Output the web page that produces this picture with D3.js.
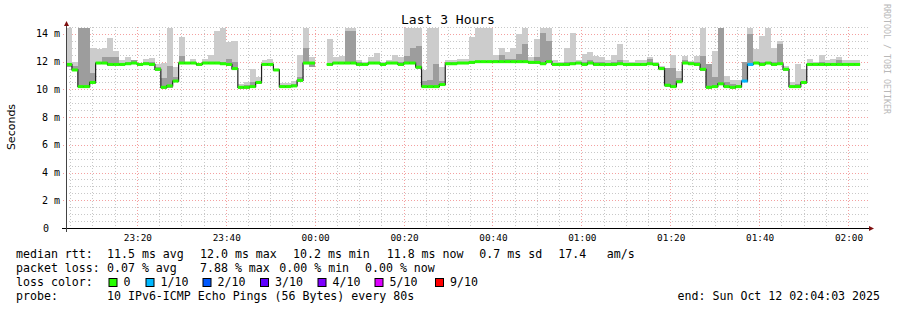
<!DOCTYPE html>
<html>
<head>
<meta charset="utf-8">
<script src="https://cdn.jsdelivr.net/npm/d3@7"></script>
<style>
  body { margin: 0; background: #fff; }
  svg { display: block; }
</style>
</head>
<body>
<div id="chart"></div>
<script>
// === Data (ms, one sample every 80 s from 23:04:03) ===
const startTime = new Date(2025, 9, 11, 23, 4, 3);
const endTime = new Date(2025, 9, 12, 2, 4, 3);
const stepSeconds = 80;

const medianRtt = [
  11.8, 11.4, 10.2, 10.2, 10.5, 11.9, 11.9, 11.8, 11.8, 11.8,
  11.85, 11.9, 11.8, 11.85, 11.8, 11.45, 10.15, 10.25, 10.6, 11.9,
  11.9, 11.9, 11.8, 11.9, 11.9, 11.9, 11.85, 11.8, 11.5, 10.15,
  10.15, 10.2, 10.5, 11.8, 11.8, 11.4, 10.2, 10.2, 10.25, 10.65,
  11.9, 11.9, null, null, 11.8, 11.9, 11.9, 11.9, 11.9, 11.8,
  11.8, 11.9, 11.9, 11.8, 11.9, 11.9, 11.8, 11.9, 11.9, 11.6,
  10.2, 10.2, 10.2, 10.35, 11.85, 11.85, 11.9, 11.9, 11.95, 12.0,
  12.0, 12.0, 12.0, 12.0, 12.0, 12.0, 12.0, 12.0, 11.95, 11.95,
  11.85, 12.0, 11.8, 11.8, 11.8, 11.85, 11.9, 11.8, 11.9, 11.8,
  11.8, 11.8, 11.8, 11.85, 11.8, 11.8, 11.8, 11.8, 11.85, 11.8,
  11.5, 10.3, 10.2, 10.55, 11.9, 11.85, 11.8, 11.45, 10.15, 10.2,
  10.4, 10.2, 10.15, 10.2, 10.6, 11.8, 11.9, 11.8, 11.9, 11.8,
  11.85, 11.45, 10.2, 10.2, 10.5, 11.8, 11.8, 11.8, 11.8, 11.8,
  11.8, 11.8, 11.8, 11.8, null
];

// fastest ping of each sample
const smokeLo = [
  11.6, 11.3, 10.1, 10.1, 10.4, 11.8, 11.8, 11.7, 11.7, 11.7,
  11.75, 11.8, 11.7, 11.75, 11.7, 11.35, 10.05, 10.1, 10.5, 11.8,
  11.8, 11.8, 11.7, 11.8, 11.8, 11.8, 11.75, 11.7, 11.4, 10.05,
  10.05, 10.1, 10.4, 11.7, 11.7, 11.3, 10.1, 10.1, 10.15, 10.55,
  11.8, 11.6, null, null, 11.7, 11.8, 11.8, 11.8, 11.8, 11.7,
  11.7, 11.8, 11.8, 11.7, 11.8, 11.8, 11.7, 11.8, 11.8, 11.5,
  10.1, 10.1, 10.1, 10.25, 11.75, 11.75, 11.8, 11.8, 11.85, 11.9,
  11.9, 11.9, 11.9, 11.9, 11.9, 11.9, 11.9, 11.9, 11.85, 11.85,
  11.75, 11.9, 11.7, 11.7, 11.7, 11.75, 11.8, 11.7, 11.8, 11.7,
  11.7, 11.7, 11.7, 11.75, 11.7, 11.7, 11.7, 11.7, 11.75, 11.7,
  11.4, 10.2, 10.1, 10.45, 11.8, 11.75, 11.7, 11.35, 10.05, 10.1,
  10.3, 10.1, 10.05, 10.1, 10.5, 11.7, 11.8, 11.7, 11.8, 11.7,
  11.75, 11.35, 10.1, 10.1, 10.4, 11.7, 11.7, 11.7, 11.7, 11.7,
  11.7, 11.7, 11.7, 11.7, null
];

// top of the dense (inner) part of the smoke
const smokeMid = [
  11.9, 11.7, 14.4, 14.4, 11.2, 12.0, 12.3, 12.3, 12.3, 11.9,
  12.0, 12.1, 11.85, 11.95, 12.0, 11.6, 10.8, 11.7, 10.9, 12.4,
  11.95, 12.0, 11.85, 12.0, 12.0, 12.0, 12.0, 12.2, 12.0, 10.25,
  10.3, 10.5, 10.6, 11.9, 11.9, 11.45, 10.3, 10.3, 10.4, 10.9,
  13.0, 12.0, null, null, 11.9, 12.0, 12.0, 14.2, 14.2, 11.95,
  11.9, 12.0, 12.0, 11.9, 12.0, 12.0, 12.0, 12.4, 13.0, 13.1,
  10.6, 10.7, 11.8, 10.6, 12.0, 12.0, 12.0, 12.0, 12.05, 12.05,
  12.05, 12.05, 12.1, 12.5, 12.2, 12.2, 12.55, 13.3, 12.05, 12.3,
  14.1, 13.5, 11.9, 11.9, 12.0, 12.0, 12.0, 11.95, 12.1, 11.95,
  11.95, 11.9, 11.95, 12.1, 11.9, 11.9, 11.9, 11.9, 12.2, 11.85,
  11.6, 11.55, 11.55, 10.8, 12.1, 11.95, 12.0, 12.4, 11.85, 10.9,
  14.4, 10.5, 10.4, 10.35, 12.0, 14.0, 12.0, 12.0, 12.0, 12.0,
  13.3, 11.55, 10.3, 10.4, 10.6, 11.9, 11.9, 11.95, 11.9, 11.9,
  12.1, 11.9, 11.9, 11.9, null
];

// slowest ping of each sample
const smokeHi = [
  14.4, 12.0, 14.4, 14.4, 13.0, 12.9, 13.0, 13.7, 12.75, 12.1,
  12.3, 12.15, 11.9, 12.2, 12.25, 11.8, 11.9, 14.4, 11.6, 13.8,
  12.0, 12.2, 11.9, 12.2, 12.45, 14.2, 14.4, 13.4, 13.5, 10.4,
  10.5, 11.45, 10.9, 12.1, 12.2, 11.5, 10.45, 10.45, 10.6, 12.45,
  14.4, 12.3, null, null, 13.6, 12.3, 12.4, 14.4, 14.4, 12.1,
  12.0, 12.3, 12.6, 12.0, 12.1, 12.5, 12.3, 14.4, 14.4, 14.4,
  11.4, 14.4, 14.4, 11.6, 12.15, 12.15, 12.2, 12.2, 13.75, 14.4,
  14.4, 14.4, 12.5, 12.95, 12.7, 13.0, 14.0, 14.4, 12.3, 13.6,
  14.4, 14.4, 12.1, 12.0, 12.95, 14.05, 12.1, 12.55, 12.7, 12.4,
  12.35, 12.1, 12.5, 13.3, 12.1, 12.0, 12.1, 12.1, 12.3, 11.95,
  11.7, 11.55, 12.5, 11.3, 12.4, 12.05, 12.4, 14.4, 11.85, 12.8,
  14.4, 10.95, 10.7, 10.7, 12.0, 14.4, 12.9, 13.85, 14.4, 13.0,
  13.5, 11.7, 10.55, 11.8, 11.5, 12.2, 12.0, 12.45, 12.15, 12.2,
  12.3, 12.1, 12.1, 12.1, null
];

// lost pings out of 10
const lossTenths = [
  0, 0, 0, 0, 0, 0, 0, 0, 0, 0,
  0, 0, 0, 0, 0, 0, 0, 0, 0, 0,
  0, 0, 0, 0, 0, 0, 0, 0, 0, 0,
  0, 0, 0, 0, 0, 0, 0, 0, 0, 0,
  0, 0, null, null, 0, 0, 0, 0, 0, 0,
  0, 0, 0, 0, 0, 0, 0, 0, 0, 0,
  0, 0, 0, 0, 0, 0, 0, 0, 0, 0,
  0, 0, 0, 0, 0, 0, 0, 0, 0, 0,
  0, 0, 0, 0, 0, 0, 0, 0, 0, 0,
  0, 0, 0, 0, 0, 0, 0, 0, 0, 0,
  0, 0, 0, 0, 0, 0, 0, 0, 0, 0,
  0, 0, 0, 0, 1, 1, 0, 0, 0, 0,
  0, 0, 0, 0, 0, 0, 0, 0, 0, 0,
  0, 0, 0, 0, null
];

const yTickValues = [0, 2, 4, 6, 8, 10, 12, 14];
const yTickLabels = ["0", "2 m", "4 m", "6 m", "8 m", "10 m", "12 m", "14 m"];

const lossLevels = [0, 1, 2, 3, 4, 5, 9];
const lossLabels = ["0", "1/10", "2/10", "3/10", "4/10", "5/10", "9/10"];
const lossColors = ["#26ff00", "#00b8ff", "#0059ff", "#5e00ff", "#7e00ff", "#dd00ff", "#ff0000"];

const rttStats = ["11.5 ms avg", "12.0 ms max", "10.2 ms min", "11.8 ms now", "0.7 ms sd", "17.4", "am/s"];
const lossStats = ["0.07 % avg", "7.88 % max", "0.00 % min", "0.00 % now"];
const probeText = "10 IPv6-ICMP Echo Pings (56 Bytes) every 80s";
const endText = "end: Sun Oct 12 02:04:03 2025";

// === Layout ===
const fullWidth = 897, fullHeight = 310;
const plot = { left: 66, right: 866, top: 27, bottom: 228 };
const mono = "'DejaVu Sans Mono', monospace";

const svg = d3.select("#chart")
  .append("svg")
  .attr("width", fullWidth)
  .attr("height", fullHeight)
  .style("background-color", "#fff");

const x = d3.scaleTime().domain([startTime, endTime]).range([plot.left, plot.right]);
const y = d3.scaleLinear().domain([0, 14.5]).range([plot.bottom, plot.top]);

const samples = medianRtt.map((m, i) => ({
  t0: new Date(startTime.getTime() + i * stepSeconds * 1000),
  t1: new Date(startTime.getTime() + (i + 1) * stepSeconds * 1000),
  med: m, lo: smokeLo[i], mid: smokeMid[i], hi: smokeHi[i], loss: lossTenths[i]
}));
const valid = samples.filter(d => d.med != null);

// === Grid ===
const grid = svg.append("g");
const minorY = d3.range(0, 14.51, 0.5).filter(v => v % 2 !== 0);
grid.selectAll(".hminor").data(minorY).enter().append("line")
  .attr("x1", plot.left).attr("x2", plot.right + 2)
  .attr("y1", d => Math.round(y(d)) + 0.5).attr("y2", d => Math.round(y(d)) + 0.5)
  .attr("stroke", "#c8c8c8").attr("stroke-dasharray", "1,2");

const minorX = d3.timeMinute.every(5).range(startTime, endTime).filter(t => t.getMinutes() % 20 !== 0);
grid.selectAll(".vminor").data(minorX).enter().append("line")
  .attr("x1", d => Math.round(x(d)) + 0.5).attr("x2", d => Math.round(x(d)) + 0.5)
  .attr("y1", plot.top).attr("y2", plot.bottom + 2)
  .attr("stroke", "#c8c8c8").attr("stroke-dasharray", "1,2");

const majorX = d3.timeMinute.every(20).range(startTime, endTime);
grid.selectAll(".vmajor").data(majorX).enter().append("line")
  .attr("x1", d => Math.round(x(d)) + 0.5).attr("x2", d => Math.round(x(d)) + 0.5)
  .attr("y1", plot.top).attr("y2", plot.bottom + 3)
  .attr("stroke", "#f4a0a0").attr("stroke-dasharray", "1,2");

grid.selectAll(".hmajor").data(yTickValues.slice(1)).enter().append("line")
  .attr("x1", plot.left - 3).attr("x2", plot.right + 2)
  .attr("y1", d => Math.round(y(d)) + 0.5).attr("y2", d => Math.round(y(d)) + 0.5)
  .attr("stroke", "#f4a0a0").attr("stroke-dasharray", "1,2");

// === Smoke ===
const smoke = svg.append("g");
smoke.selectAll(".outer").data(valid).enter().append("rect")
  .attr("x", d => x(d.t0)).attr("width", d => x(d.t1) - x(d.t0))
  .attr("y", d => y(d.hi)).attr("height", d => y(d.lo) - y(d.hi))
  .attr("fill", "#cccccc").attr("shape-rendering", "crispEdges");
smoke.selectAll(".inner").data(valid).enter().append("rect")
  .attr("x", d => x(d.t0)).attr("width", d => x(d.t1) - x(d.t0))
  .attr("y", d => y(d.mid)).attr("height", d => Math.max(0, y(d.lo) - y(d.mid)))
  .attr("fill", "#9d9d9d").attr("shape-rendering", "crispEdges");

// === Median line + loss colour band ===
const medLine = d3.line()
  .defined(d => d.med != null)
  .x(d => x(d.t0)).y(d => y(d.med))
  .curve(d3.curveStepAfter);
const lineData = samples.concat([{ t0: endTime, med: null }]);
// extend each run to the end of its last sample
const stepPts = [];
samples.forEach((d, i) => {
  stepPts.push(d);
  const next = samples[i + 1];
  if (d.med != null && (!next || next.med == null)) stepPts.push({ t0: d.t1, med: d.med });
});
svg.append("path")
  .datum(stepPts)
  .attr("d", medLine)
  .attr("fill", "none")
  .attr("stroke", "#202020")
  .attr("stroke-width", 1.2);

svg.append("g").selectAll("rect").data(valid).enter().append("rect")
  .attr("x", d => x(d.t0)).attr("width", d => x(d.t1) - x(d.t0))
  .attr("y", d => y(d.med) - 1.5).attr("height", 3)
  .attr("fill", d => lossColors[lossLevels.indexOf(d.loss)]);

// === Axes ===
const axes = svg.append("g");
axes.append("line")
  .attr("x1", plot.left - 4).attr("x2", plot.right + 4)
  .attr("y1", plot.bottom + 0.5).attr("y2", plot.bottom + 0.5)
  .attr("stroke", "#000");
axes.append("line")
  .attr("x1", plot.left + 0.5).attr("x2", plot.left + 0.5)
  .attr("y1", plot.bottom + 4).attr("y2", plot.top - 4)
  .attr("stroke", "#444");
axes.append("path")
  .attr("d", `M${plot.left - 2},${plot.top - 1}L${plot.left + 3},${plot.top - 1}L${plot.left + 0.5},${plot.top - 6}Z`)
  .attr("fill", "#7f1010");
axes.append("path")
  .attr("d", `M${plot.right + 3},${plot.bottom - 2}L${plot.right + 3},${plot.bottom + 3}L${plot.right + 8},${plot.bottom + 0.5}Z`)
  .attr("fill", "#7f1010");

// y tick labels
svg.append("g").selectAll("text").data(yTickValues).enter().append("text")
  .attr("x", (d, i) => d === 0 ? 43 : 60)
  .attr("y", d => y(d) + 3.5)
  .attr("text-anchor", d => d === 0 ? "start" : "end")
  .style("font-family", mono).style("font-size", "10px").style("fill", "#000")
  .text((d, i) => yTickLabels[i]);

// x tick labels
svg.append("g").selectAll("text").data(majorX).enter().append("text")
  .attr("x", d => x(d) + 1)
  .attr("y", 241)
  .attr("text-anchor", "middle")
  .style("font-family", mono).style("font-size", "9.4px").style("fill", "#000")
  .text(d => d3.timeFormat("%H:%M")(d));

// === Titles ===
svg.append("text")
  .attr("x", 448).attr("y", 24)
  .attr("text-anchor", "middle")
  .style("font-family", mono).style("font-size", "13px").style("fill", "#000")
  .text("Last 3 Hours");

svg.append("text")
  .attr("transform", "translate(15, 127) rotate(-90)")
  .attr("text-anchor", "middle")
  .style("font-family", "'DejaVu Sans', sans-serif").style("font-size", "11px").style("fill", "#000")
  .text("Seconds");

svg.append("text")
  .attr("transform", "translate(884, 4) rotate(90)")
  .attr("text-anchor", "start")
  .style("font-family", mono).style("font-size", "8.3px").style("fill", "#b8b8b8")
  .text("RRDTOOL / TOBI OETIKER");

// === Legend ===
const legend = svg.append("g")
  .style("font-family", mono).style("font-size", "11.6px").style("fill", "#000");
const addText = (tx, ty, s) => legend.append("text").attr("x", tx).attr("y", ty).attr("xml:space", "preserve").text(s);

addText(16, 258, "median rtt:");
[107, 200, 293, 386.7, 479.3, 558.3, 606.7].forEach((px, i) => addText(px, 258, rttStats[i]));

addText(16, 272, "packet loss:");
[107, 200, 279.3, 365].forEach((px, i) => addText(px, 272, lossStats[i]));

addText(16, 286, "loss color:");
const boxX = [108.5, 145.5, 202.5, 260, 317.5, 374.5, 435];
lossLabels.forEach((lab, i) => {
  legend.append("rect")
    .attr("x", boxX[i] + 0.5).attr("y", 278.5)
    .attr("width", 8).attr("height", 8)
    .attr("fill", lossColors[i]).attr("stroke", "#000").attr("stroke-width", 1);
  addText(boxX[i] + 15, 286, lab);
});

addText(16, 300, "probe:");
addText(107, 300, probeText);
legend.append("text").attr("x", 880).attr("y", 300).attr("text-anchor", "end").text(endText);
</script>
</body>
</html>
